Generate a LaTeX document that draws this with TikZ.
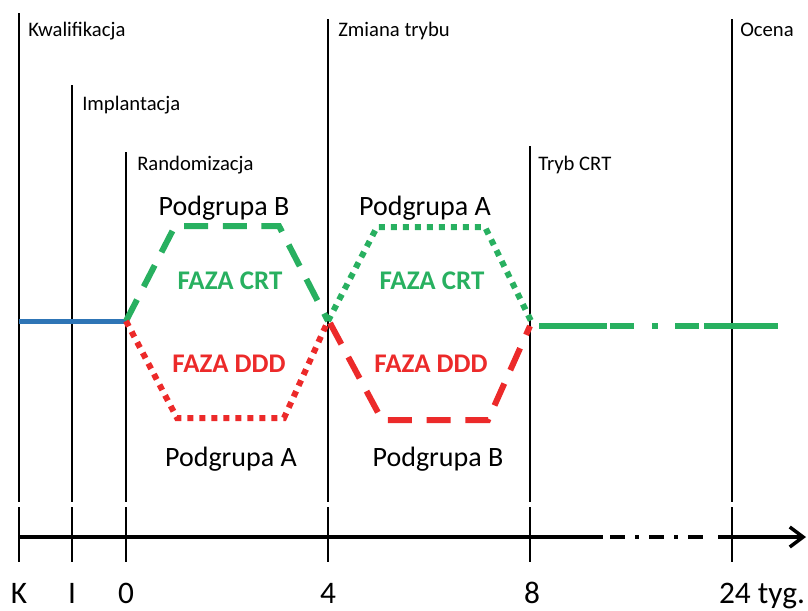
\documentclass[tikz,border=0pt]{standalone}
\usepackage{fontspec}
\setmainfont{Carlito}
\usetikzlibrary{arrows.meta}
\definecolor{cgreen}{RGB}{40,176,96}
\definecolor{cred}{RGB}{236,42,42}
\definecolor{cblue}{RGB}{46,117,182}
\tikzset{
  vline/.style={line width=0.9pt,black},
  tick/.style={line width=1.5pt,black},
  axisline/.style={line width=3.4pt,black},
  toplabel/.style={anchor=base west,inner sep=0pt,font=\fontsize{15.5}{18}\selectfont},
  grouplabel/.style={anchor=base,inner sep=0pt,font=\fontsize{21}{24}\selectfont},
  phaselabel/.style={anchor=base,inner sep=0pt,font=\fontsize{20.2}{24}\selectfont\bfseries},
  axislabel/.style={anchor=base,inner sep=0pt,font=\fontsize{23.5}{26}\selectfont},
  dashedthick/.style={line width=4.5pt,dash pattern=on 18pt off 11pt,line cap=butt,line join=miter},
  dottedthick/.style={line width=4.5pt,dash pattern=on 4.5pt off 4.5pt,line cap=butt,line join=miter},
}
\begin{document}
\begin{tikzpicture}[x=0.75pt,y=-0.75pt]
\useasboundingbox (0,0) rectangle (808,611);
% milestone coordinates
\coordinate (tK) at (19,13);   \coordinate (bK) at (19,502);
\coordinate (tI) at (72,85);   \coordinate (bI) at (72,502);
\coordinate (t0) at (126,152); \coordinate (b0) at (126,502);
\coordinate (t4) at (328,19);  \coordinate (b4) at (328,502);
\coordinate (t8) at (530,146); \coordinate (b8) at (530,502);
\coordinate (t24) at (732,19); \coordinate (b24) at (732,502);
\foreach \n in {K,I,0,4,8,24} { \draw[vline] (t\n) -- (b\n); }
% ticks
\foreach \x/\n in {19/K,72/I,126/0,328/4,530/8,732/24} {
  \coordinate (kt\n) at (\x,507); \coordinate (kb\n) at (\x,562);
  \draw[tick] (kt\n) -- (kb\n);
}
% axis
\coordinate (a0) at (19,537);
\coordinate (a1) at (603,537);
\coordinate (aS) at (718,537);
\coordinate (aE) at (806,537);
\draw[axisline,line cap=butt] (a0) -- (a1);
\foreach \s/\e in {610/625,635/639,649/664,674/678,688/703} {
  \draw[axisline,line cap=butt] (\s,537) -- (\e,537);
}
\draw[axisline,line cap=butt,-{Straight Barb[length=10pt,width=15pt,line width=2.6pt]}] (aS) -- (aE);
% top labels
\node[toplabel] (lK) at (28,36) {Kwalifikacja};
\node[toplabel] (lI) at (82,110) {Implantacja};
\node[toplabel] (l0) at (137,170) {Randomizacja};
\node[toplabel] (l4) at (338,36) {Zmiana trybu};
\node[toplabel] (l8) at (538,170) {Tryb CRT};
\node[toplabel] (l24) at (740,36) {Ocena};
% axis labels
\node[axislabel] (xK) at (19,603) {K};
\node[axislabel] (xI) at (72,603) {I};
\node[axislabel] (x0) at (126,603) {0};
\node[axislabel] (x4) at (328,603) {4};
\node[axislabel] (x8) at (532,603) {8};
\node[axislabel] (x24) at (762,603) {24 tyg.};
% blue baseline
\coordinate (s0) at (19,321);
\coordinate (s1) at (126,321);
\draw[cblue,line width=3.75pt] (s0) -- (s1);
% first hexagon
\coordinate (g1a) at (175,226); \coordinate (g1b) at (279,226);
\coordinate (m4) at (328,321);
\coordinate (r1a) at (177,418); \coordinate (r1b) at (284,418);
\draw[cgreen,dashedthick] (s1) -- (g1a) -- (g1b) -- (m4);
\draw[cred,dottedthick] (s1) -- (r1a) -- (r1b) -- (m4);
% second hexagon
\coordinate (g2a) at (377,227); \coordinate (g2b) at (485,227);
\coordinate (m8) at (533,325);
\coordinate (r2s) at (330,323);
\coordinate (r2a) at (382,420); \coordinate (r2b) at (488,420);
\coordinate (r2e) at (530,326);
\draw[cgreen,dottedthick] (m4) -- (g2a) -- (g2b) -- (m8);
\draw[cred,dashedthick] (r2s) -- (r2a) -- (r2b) -- (r2e);
% green continuation
\coordinate (c0) at (539,326);
\coordinate (c1) at (778,326);
\draw[cgreen,line width=4.8pt,line cap=butt,
  dash pattern=on 51pt off 2.25pt on 18pt off 13.5pt on 4.5pt off 12.75pt on 18pt off 3.75pt on 55.5pt off 10pt] (c0) -- (c1);
% group labels
\node[grouplabel] (pB1) at (224,215) {Podgrupa B};
\node[phaselabel,text=cgreen] (fc1) at (230,289) {FAZA CRT};
\node[phaselabel,text=cred] (fd1) at (229,372) {FAZA DDD};
\node[grouplabel] (pA1) at (231,466) {Podgrupa A};
\node[grouplabel] (pA2) at (425,215) {Podgrupa A};
\node[phaselabel,text=cgreen] (fc2) at (432,289) {FAZA CRT};
\node[phaselabel,text=cred] (fd2) at (431,372) {FAZA DDD};
\node[grouplabel] (pB2) at (438,466) {Podgrupa B};
\end{tikzpicture}
\end{document}
